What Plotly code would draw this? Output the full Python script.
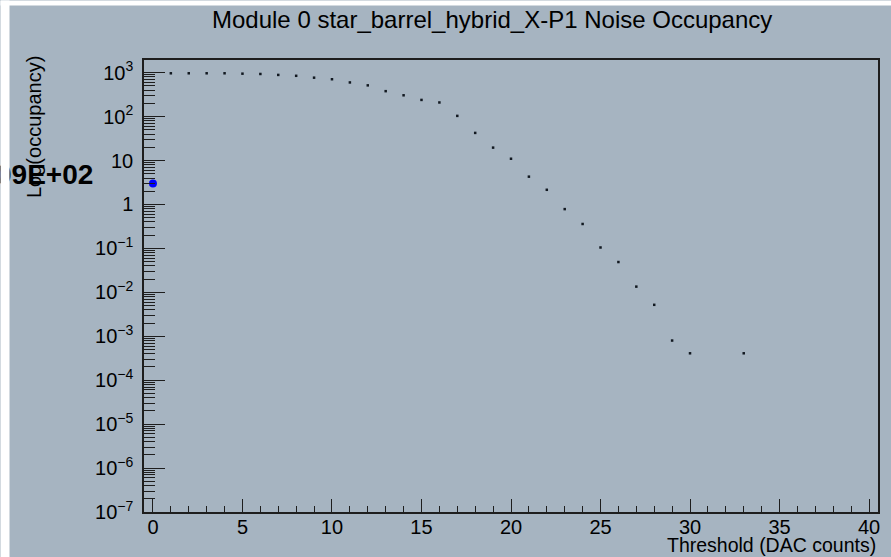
import plotly.graph_objects as go

# ---- data ----
thresholds = list(range(1, 31)) + [33]
occupancy = [970, 970, 970, 970, 950, 935, 890, 850, 770, 710,
             600, 515, 380, 306, 240, 210, 104, 42.6, 19.7, 11.0,
             4.3, 2.16, 0.785, 0.36, 0.105, 0.049, 0.0135, 0.0052, 0.0008, 0.00041,
             0.00041]
highlight_x = [0]
highlight_y = [3.0]

y_tick_vals = [1e-7, 1e-6, 1e-5, 1e-4, 1e-3, 1e-2, 1e-1, 1, 10, 100, 1000]
y_tick_text = ["10<sup>−7</sup>", "10<sup>−6</sup>", "10<sup>−5</sup>", "10<sup>−4</sup>",
               "10<sup>−3</sup>", "10<sup>−2</sup>", "10<sup>−1</sup>", "1", "10",
               "10<sup>2</sup>", "10<sup>3</sup>"]
x_tick_vals = [0, 5, 10, 15, 20, 25, 30, 35, 40]

title_text = "Module 0 star_barrel_hybrid_X-P1 Noise Occupancy"
x_title = "Threshold (DAC counts)"
y_title = "Log(occupancy)"
overlay_text = "09E+02"

BG = "rgb(166,180,193)"
FONT = "Liberation Sans, Arial, sans-serif"
AX = "#1e1e1e"

W, H = 891, 557
ML, MR, MT, MB = 144, 13, 60, 45
PW, PH = W - ML - MR, H - MT - MB

fig = go.Figure()
fig.add_trace(go.Scatter(x=thresholds, y=occupancy, mode="markers",
                         marker=dict(symbol="square", size=2.5, color="#111820", line=dict(width=0)),
                         showlegend=False))
fig.add_trace(go.Scatter(x=highlight_x, y=highlight_y, mode="markers",
                         marker=dict(symbol="circle", size=8, color="#0000ff", line=dict(width=0)),
                         showlegend=False, cliponaxis=False))

fig.update_layout(
    width=W, height=H,
    margin=dict(l=ML, r=MR, t=MT, b=MB, autoexpand=False),
    paper_bgcolor=BG, plot_bgcolor=BG,
    font=dict(family=FONT, color="black", size=20),
    showlegend=False,
)
fig.update_xaxes(
    range=[-0.5, 40.5], showgrid=False, zeroline=False,
    showline=True, linecolor=AX, linewidth=1.5, mirror=True,
    tickmode="array", tickvals=x_tick_vals,
    ticks="inside", ticklen=13, tickwidth=1.2, tickcolor=AX,
    minor=dict(dtick=1, ticks="inside", ticklen=6, tickwidth=1.2, tickcolor=AX, showgrid=False),
    tickfont=dict(size=20, family=FONT, color="black"),
    ticklabelstandoff=-4,
)
fig.update_yaxes(
    type="log", range=[-7, 3.289], showgrid=False, zeroline=False,
    showline=True, linecolor=AX, linewidth=1.5, mirror=True,
    tickmode="array", tickvals=y_tick_vals, ticktext=y_tick_text,
    ticks="inside", ticklen=21, tickwidth=1.2, tickcolor=AX,
    minor=dict(dtick="D1", ticks="inside", ticklen=11, tickwidth=1.2, tickcolor=AX, showgrid=False),
    tickfont=dict(size=20, family=FONT, color="black"),
    ticklabelstandoff=5,
)

anns = [
    dict(text=title_text, xref="paper", yref="paper", x=(491.5 - ML) / PW,
         y=1 + (MT - 19) / PH, xanchor="center", yanchor="middle",
         showarrow=False, font=dict(size=24, family=FONT, color="black")),
    dict(text=x_title, xref="paper", yref="paper", x=1, y=-(545 - (H - MB)) / PH,
         xanchor="right", yanchor="middle", showarrow=False,
         font=dict(size=19.5, family=FONT, color="black")),
    dict(text=y_title, xref="paper", yref="paper", x=-(ML - 34) / PW,
         y=1 + (MT - 54) / PH, xanchor="center", yanchor="top", textangle=-90,
         showarrow=False, font=dict(size=20, family=FONT, color="black")),
    dict(text="<b>" + overlay_text + "</b>", xref="paper", yref="paper",
         x=-(ML - 95) / PW, y=1 - (174 - MT) / PH,
         xanchor="right", yanchor="middle", showarrow=False,
         font=dict(size=28, family=FONT, color="black")),
    # white window-edge strips
    dict(text=" ", xref="paper", yref="paper", x=-ML / PW, y=1 + MT / PH,
         xanchor="left", yanchor="top", width=8, height=H, bgcolor="white", borderpad=0,
         showarrow=False, font=dict(size=1)),
    dict(text=" ", xref="paper", yref="paper", x=-ML / PW, y=1 + MT / PH,
         xanchor="left", yanchor="top", width=W, height=4, bgcolor="white", borderpad=0,
         showarrow=False, font=dict(size=1)),
]
fig.update_layout(annotations=anns)

fig.write_html("out.html")
